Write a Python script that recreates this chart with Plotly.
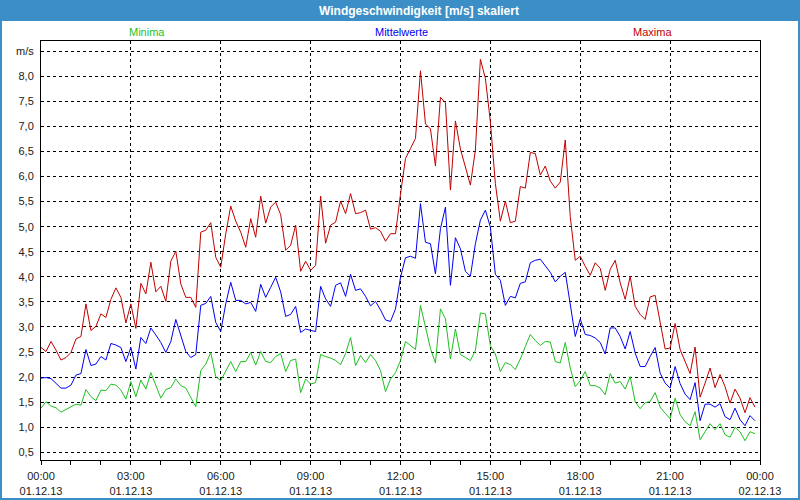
import pandas as pd
import plotly.graph_objects as go

# ---------------- data ----------------
start_time = "2013-12-01 00:00"
interval = "10min"

maxima = [
    2.59, 2.51, 2.71, 2.54, 2.34, 2.39, 2.49, 2.76, 2.81, 3.46,
    2.93, 3.01, 3.26, 3.19, 3.55, 3.78, 3.59, 3.08, 3.46, 2.97,
    3.87, 3.66, 4.29, 3.70, 3.81, 3.51, 4.31, 4.51, 3.86, 3.59,
    3.59, 3.39, 4.89, 4.93, 5.08, 4.39, 4.19, 4.86, 5.41, 5.11,
    4.89, 4.59, 5.16, 4.79, 5.61, 5.07, 5.39, 5.49, 5.24, 4.53,
    4.63, 5.03, 4.11, 4.31, 4.13, 4.23, 5.61, 4.67, 5.03, 5.09,
    5.51, 5.26, 5.66, 5.26, 5.28, 5.33, 4.95, 4.98, 4.91, 4.71,
    4.86, 4.86, 5.65, 6.36, 6.56, 6.76, 8.11, 7.05, 6.95, 6.21,
    7.58, 7.47, 5.73, 7.11, 6.55, 6.19, 5.83, 6.53, 8.34, 7.96,
    7.09, 5.86, 5.11, 5.51, 5.08, 5.11, 5.80, 5.77, 6.48, 6.46,
    6.03, 6.21, 5.91, 5.77, 5.89, 6.73, 5.20, 4.33, 4.41, 4.21,
    4.03, 4.28, 4.17, 3.73, 4.15, 4.33, 3.88, 3.55, 4.01, 3.41,
    3.25, 3.15, 3.60, 3.63, 3.11, 2.56, 2.58, 3.07, 2.55, 2.31,
    2.07, 2.60, 1.60, 1.88, 2.18, 1.79, 2.05, 1.81, 1.48, 1.76,
    1.58, 1.29, 1.59, 1.40,
]

mittelwerte = [
    1.98, 1.99, 1.97, 1.88, 1.78, 1.78, 1.84, 2.04, 2.07, 2.55,
    2.23, 2.26, 2.41, 2.34, 2.67, 2.64, 2.59, 2.31, 2.59, 2.16,
    2.79, 2.67, 2.98, 2.84, 2.69, 2.49, 2.71, 3.15, 2.85, 2.51,
    2.39, 2.45, 3.43, 3.47, 3.61, 3.09, 2.91, 3.46, 3.89, 3.53,
    3.53, 3.46, 3.49, 3.31, 3.85, 3.59, 3.79, 3.99, 3.70, 3.21,
    3.25, 3.41, 2.89, 2.96, 2.93, 2.91, 3.81, 3.56, 3.41, 3.83,
    3.88, 3.61, 4.05, 3.73, 3.76, 3.61, 3.42, 3.51, 3.34, 3.14,
    3.11, 3.36, 3.99, 4.38, 4.41, 4.37, 5.46, 4.69, 4.66, 4.06,
    4.96, 5.39, 3.83, 4.78, 4.56, 4.11, 4.01, 4.66, 5.13, 5.33,
    4.99, 4.05, 3.93, 3.43, 3.61, 3.58, 3.87, 3.90, 4.28, 4.33,
    4.35, 4.23, 4.09, 3.90, 4.01, 4.09, 3.49, 2.81, 3.16, 2.85,
    2.83, 2.78, 2.69, 2.46, 2.98, 2.98, 2.81, 2.56, 2.91, 2.48,
    2.21, 2.21, 2.41, 2.59, 2.08, 1.88, 1.78, 2.21, 1.87, 1.66,
    1.55, 1.89, 1.13, 1.46, 1.46, 1.40, 1.47, 1.21, 1.15, 1.38,
    1.15, 1.03, 1.23, 1.13,
]

minima = [
    1.38, 1.51, 1.42, 1.39, 1.30, 1.35, 1.41, 1.46, 1.44, 1.75,
    1.61, 1.53, 1.74, 1.73, 1.86, 1.84, 1.74, 1.56, 1.91, 1.61,
    1.94, 1.76, 2.09, 1.83, 1.58, 1.75, 1.79, 1.96, 1.83, 1.78,
    1.59, 1.41, 2.13, 2.26, 2.49, 2.01, 1.93, 2.13, 2.31, 2.11,
    2.31, 2.31, 2.49, 2.24, 2.51, 2.31, 2.29, 2.41, 2.47, 2.11,
    2.33, 2.36, 1.69, 1.96, 1.86, 1.89, 2.45, 2.41, 2.38, 2.33,
    2.25, 2.47, 2.79, 2.23, 2.43, 2.29, 2.45, 2.33, 2.13, 1.71,
    1.96, 2.09, 2.33, 2.71, 2.63, 2.55, 3.43, 2.99, 2.57, 2.28,
    3.36, 3.16, 2.36, 2.96, 2.45, 2.39, 2.33, 2.53, 3.28, 3.26,
    2.63, 2.46, 2.11, 2.29, 2.25, 2.15, 2.36, 2.61, 2.85, 2.73,
    2.63, 2.71, 2.70, 2.31, 2.28, 2.69, 2.18, 1.81, 1.93, 2.11,
    1.83, 1.83, 1.78, 1.65, 2.07, 1.88, 1.91, 1.76, 2.01, 1.51,
    1.37, 1.49, 1.51, 1.69, 1.40, 1.28, 1.17, 1.58, 1.25, 1.11,
    1.03, 1.31, 0.75, 0.91, 1.07, 0.95, 1.07, 0.85, 0.80, 1.00,
    0.91, 0.73, 0.91, 0.87,
]

x_tick_labels = [
    "00:00<br>01.12.13", "03:00<br>01.12.13", "06:00<br>01.12.13",
    "09:00<br>01.12.13", "12:00<br>01.12.13", "15:00<br>01.12.13",
    "18:00<br>01.12.13", "21:00<br>01.12.13", "00:00<br>02.12.13",
]
y_tick_values = [0.5, 1.0, 1.5, 2.0, 2.5, 3.0, 3.5, 4.0, 4.5, 5.0, 5.5,
                 6.0, 6.5, 7.0, 7.5, 8.0, 8.5]
y_tick_labels = ["0,5", "1,0", "1,5", "2,0", "2,5", "3,0", "3,5", "4,0",
                 "4,5", "5,0", "5,5", "6,0", "6,5", "7,0", "7,5", "8,0", "m/s"]

series_names = ["Minima", "Mittelwerte", "Maxima"]
title_text = "Windgeschwindigkeit [m/s] skaliert"

# ---------------- figure ----------------
times = pd.date_range(start_time, periods=len(maxima), freq=interval)
x_ticks = pd.date_range(start_time, periods=len(x_tick_labels), freq="3h")

C_MIN = "#1fbf1f"
C_MID = "#0000f0"
C_MAX = "#c00000"
FRAME = "#3c8fc6"
FONT = "Liberation Sans"

fig = go.Figure()
for name, vals, col in [("Minima", minima, C_MIN),
                        ("Mittelwerte", mittelwerte, C_MID),
                        ("Maxima", maxima, C_MAX)]:
    fig.add_trace(go.Scatter(x=times, y=vals, mode="lines", name=name,
                             line=dict(color=col, width=1),
                             hoverinfo="skip"))

W, H = 800, 500
L, R, T, B = 41, 40, 41, 40
pw, ph = W - L - R, H - T - B


def px(x):
    return (x - L) / pw


def py(y):
    return (H - B - y) / ph


shapes = [
    # title bar
    dict(type="rect", xref="paper", yref="paper", x0=px(0), x1=px(W),
         y0=py(21), y1=py(0), fillcolor=FRAME, line=dict(width=0), layer="above"),
    # window frame
    dict(type="rect", xref="paper", yref="paper", x0=px(1), x1=px(W - 1),
         y0=py(H - 1), y1=py(1), line=dict(color=FRAME, width=2),
         fillcolor="rgba(0,0,0,0)", layer="above"),
]

annotations = [
    dict(text="<b>" + title_text + "</b>", xref="paper", yref="paper",
         x=px(419), y=py(10.5), showarrow=False, xanchor="center", yanchor="middle",
         font=dict(family=FONT, size=12, color="white")),
]
for name, xc, col in [("Minima", 147, C_MIN), ("Mittelwerte", 401, C_MID),
                      ("Maxima", 652, C_MAX)]:
    annotations.append(dict(text=name, xref="paper", yref="paper", x=px(xc),
                            y=py(32), showarrow=False, xanchor="center",
                            yanchor="middle",
                            font=dict(family=FONT, size=11, color=col)))

fig.update_layout(
    width=W, height=H,
    margin=dict(l=L, r=R, t=T, b=B, pad=0, autoexpand=False),
    paper_bgcolor="white", plot_bgcolor="white",
    showlegend=False,
    font=dict(family=FONT, size=11, color="#202020"),
    shapes=shapes, annotations=annotations,
    hovermode=False,
)
fig.update_xaxes(
    type="date", automargin=False,
    range=[x_ticks[0], x_ticks[-1]],
    tickvals=list(x_ticks), ticktext=x_tick_labels,
    ticks="outside", ticklen=4, tickcolor="black",
    showgrid=True, gridcolor="black", griddash="3px,3px", gridwidth=1,
    showline=True, linecolor="black", linewidth=1, mirror=True,
    minor=dict(dtick=3600000, ticks="outside", ticklen=4, tickcolor="black",
               showgrid=False),
    zeroline=False, fixedrange=True, ticklabelstandoff=2,
    tickfont=dict(family=FONT, size=11, color="#202020"),
)
fig.update_yaxes(
    automargin=False,
    range=[0.346, 8.704],
    tickvals=y_tick_values, ticktext=y_tick_labels,
    ticks="", showgrid=True, gridcolor="black", griddash="3px,3px", gridwidth=1,
    showline=True, linecolor="black", linewidth=1, mirror=True,
    zeroline=False, fixedrange=True, ticklabelstandoff=4,
    tickfont=dict(family=FONT, size=11, color="#202020"),
)

fig.write_html(
    "out.html",
    config={"displayModeBar": False},
    post_script="document.body.style.margin='0';document.body.style.overflow='hidden';",
)
